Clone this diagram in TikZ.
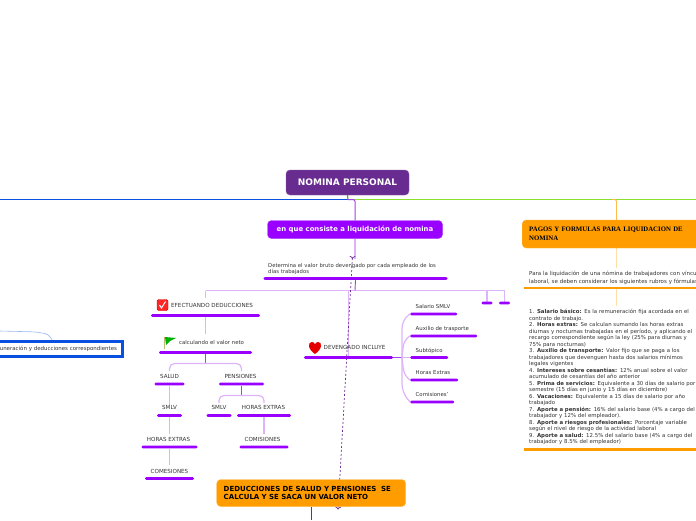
\documentclass[tikz,border=0pt]{standalone}
\usepackage{fontspec}
\setmainfont{DejaVu Sans}
\newfontfamily\headfont{Liberation Serif}
\usetikzlibrary{shapes,arrows,arrows.meta,positioning,backgrounds}
\definecolor{nomina}{HTML}{682C91}
\definecolor{violeta}{HTML}{9900FF}
\definecolor{lila}{HTML}{DDB3FA}
\definecolor{oscuro}{HTML}{A040E8}
\definecolor{naranja}{HTML}{FF9C00}
\definecolor{crema}{HTML}{FFDFA8}
\definecolor{azul}{HTML}{0A50E0}
\definecolor{verde}{HTML}{8BE02A}
\definecolor{texto}{HTML}{333333}
\tikzset{
    x=1pt,y=-1pt,
    title/.style={rounded corners=4pt,text=white,font=\bfseries\fontsize{9}{11}\selectfont,align=center,inner sep=0pt},
    item/.style={text=texto,font=\fontsize{5.4}{6.3}\selectfont,inner sep=0pt,anchor=base},
    itemleft/.style={item,anchor=base west,align=left},
    upper/.style={font=\fontsize{5.6}{6.3}\selectfont},
    bar/.style={fill=violeta,rounded corners=1.2pt,minimum height=2.6pt,inner sep=0pt},
    barorange/.style={fill=naranja,minimum height=2.6pt,inner sep=0pt,anchor=west},
    soft/.style={line width=1.2pt,lila},
    softorange/.style={line width=1.2pt,crema},
    strong/.style={line width=.9pt,oscuro},
}
\begin{document}
\begin{tikzpicture}
    \useasboundingbox (0,0) rectangle (696,520);

    % boxes
    \node[title,fill=nomina,draw=nomina!80!white,minimum width=123pt,minimum height=25pt] (root) at (347.5,182.5) {NOMINA PERSONAL};
    \node[title,fill=violeta,draw=violeta!80!white,minimum width=175pt,minimum height=18pt,font=\bfseries\fontsize{6.9}{8}\selectfont] (consiste) at (355,229.5) {en que consiste a liquidación de nomina};
    \node[title,fill=naranja,draw=naranja!80!white,minimum height=28pt,text=black,anchor=west,align=left,text width=170pt,inner xsep=7pt,font=\headfont\bfseries\fontsize{6.8}{9.4}\selectfont] (pagos) at (522,234) {PAGOS Y FORMULAS PARA LIQUIDACION DE\\NOMINA};
    \node[title,fill=naranja,draw=naranja!70!white,minimum height=27pt,text=black,anchor=west,align=left,text width=175pt,inner xsep=7pt,font=\bfseries\fontsize{7}{8.2}\selectfont] (deduccion) at (216.5,493) {DEDUCCIONES DE SALUD Y PENSIONES\ \ SE\\CALCULA Y SE SACA UN VALOR NETO};
    \node[draw=azul,line width=3pt,fill=white,text=texto,font=\fontsize{5.45}{6.3}\selectfont,anchor=east,text width=130pt,align=right,inner xsep=5pt,minimum height=14.5pt,outer sep=0pt] (remun) at (122,349) {uneración y deducciones correspondientes};

    % text nodes and their bars
    \node[itemleft,text width=190pt,font=\fontsize{5.3}{6.3}\selectfont] (determina) at (268,267) {Determina el valor bruto devengado por cada empleado de los\\días trabajados};
    \node[bar,minimum width=184pt] (determinabar) at (355.5,278.5) {};

    \node[itemleft,upper] (efectuando) at (171,307.5) {EFECTUANDO DEDUCCIONES};
    \node[bar,minimum width=109pt] (efectuandobar) at (205.5,315.5) {};
    \node[itemleft] (neto) at (179,344.5) {calculando el valor neto};
    \node[bar,minimum width=93pt] (netobar) at (205.5,352.5) {};

    \node[item,upper] (salud) at (169.5,378.5) {SALUD};
    \node[bar,minimum width=30pt] (saludbar) at (169.5,384) {};
    \node[item,upper] (pensiones) at (240.5,378.5) {PENSIONES};
    \node[bar,minimum width=45pt] (pensionesbar) at (241.5,384) {};

    \node[item,upper] (smlvuno) at (169.5,409.5) {SMLV};
    \node[bar,minimum width=25pt] (smlvunobar) at (169.5,415.5) {};
    \node[item,upper] (smlvdos) at (219,409.5) {SMLV};
    \node[bar,minimum width=25pt] (smlvdosbar) at (219,415.5) {};
    \node[item,upper] (horasdos) at (263.5,409.5) {HORAS EXTRAS};
    \node[bar,minimum width=54pt] (horasdosbar) at (264,415.5) {};

    \node[item,upper] (horasuno) at (168.5,441.5) {HORAS EXTRAS};
    \node[bar,minimum width=56pt] (horasunobar) at (169.5,447) {};
    \node[item,upper] (comisionesdos) at (262.5,441.5) {COMISIONES};
    \node[bar,minimum width=49pt] (comisionesdosbar) at (264,447) {};
    \node[item,upper] (comesiones) at (169.5,473) {COMESIONES};
    \node[bar,minimum width=49pt] (comesionesbar) at (169.5,478.5) {};

    \node[itemleft,upper] (devengado) at (323.5,349.5) {DEVENGADO INCLUYE};
    \node[bar,minimum width=89pt] (devengadobar) at (348.5,357.5) {};

    \node[itemleft] (salario) at (415.5,308.5) {Salario SMLV};
    \node[bar,minimum width=47pt,anchor=west] (salariobar) at (410,314) {};
    \node[itemleft] (auxilio) at (415.5,330.5) {Auxilio de trasporte};
    \node[bar,minimum width=67pt,anchor=west] (auxiliobar) at (410,336) {};
    \node[itemleft] (subtopico) at (415.5,352.5) {Subtópico};
    \node[bar,minimum width=38pt,anchor=west] (subtopicobar) at (410,357.5) {};
    \node[itemleft] (horas) at (415.5,374.5) {Horas Extras};
    \node[bar,minimum width=48pt,anchor=west] (horasbar) at (410,380) {};
    \node[itemleft] (comisiones) at (415.5,396.5) {Comisiones'};
    \node[bar,minimum width=44pt,anchor=west] (comisionesbar) at (410,402) {};
    \node[bar,minimum width=11pt] (vaciouno) at (487,303) {};
    \node[bar,minimum width=11pt] (vaciodos) at (504.5,303) {};

    \node[itemleft,text width=190pt,font=\fontsize{5.5}{7.6}\selectfont] (para) at (529,275.5) {Para la liquidación de una nómina de trabajadores con vínculo\\laboral, se deben considerar los siguientes rubros y fórmulas};
    \node[barorange,minimum width=172pt] (parabar) at (524,288) {};
    \node[itemleft,text width=190pt,font=\fontsize{5.4}{6.5}\selectfont] (rubros) at (529,313.5) {1. \textbf{Salario básico:} Es la remuneración fija acordada en el\\contrato de trabajo.\\
2. \textbf{Horas extras:} Se calculan sumando las horas extras\\diurnas y nocturnas trabajadas en el período, y aplicando el\\recargo correspondiente según la ley (25\% para diurnas y\\75\% para nocturnas)\\
3. \textbf{Auxilio de transporte:} Valor fijo que se paga a los\\trabajadores que devenguen hasta dos salarios mínimos\\legales vigentes\\
4. \textbf{Intereses sobre cesantías:} 12\% anual sobre el valor\\acumulado de cesantías del año anterior\\
5. \textbf{Prima de servicios:} Equivalente a 30 días de salario por\\semestre (15 días en junio y 15 días en diciembre)\\
6. \textbf{Vacaciones:} Equivalente a 15 días de salario por año\\trabajado\\
7. \textbf{Aporte a pensión:} 16\% del salario base (4\% a cargo del\\trabajador y 12\% del empleador).\\
8. \textbf{Aporte a riesgos profesionales:} Porcentaje variable\\según el nivel de riesgo de la actividad laboral\\
9. \textbf{Aporte a salud:} 12.5\% del salario base (4\% a cargo del\\trabajador y 8.5\% del empleador)};
    \node[barorange,minimum width=172pt] (rubrosbar) at (524,449.5) {};

    % free ends of the branches
    \coordinate (tronco) at (348,199.5);
    \coordinate (izquierda) at (0,199.5);
    \coordinate (derecha) at (696,199.5);
    \coordinate (reparto) at (355,290.5);
    \coordinate (abanico) at (402,357.5);
    \coordinate (repartoneto) at (205.5,363.5);
    \coordinate (repartopension) at (241.5,395.5);
    \coordinate (margen) at (0,331);
    \coordinate (borde) at (311,520);

    \begin{scope}[on background layer]
    % main branches
    \draw[line width=1pt,azul] (izquierda) -- (tronco);
    \draw[line width=1pt,verde] (tronco) -- (derecha);
    \draw[line width=1.2pt,olive!70!green] (root.south) -- (tronco);
    \draw[line width=1pt,oscuro,rounded corners=2pt] (tronco) -| (consiste.north);
    \draw[line width=.9pt,naranja!70!white,rounded corners=2pt] (612,199.5) -| (616.5,220);

    % connectors of the violet branch
    \draw[soft] (consiste.south) -- (355,259);
    \draw[soft] (205.5,290.5) -- (reparto);
    \draw[soft] (reparto) -- (504.5,290.5) -- (vaciodos.north);
    \draw[soft] (487,290.5) -- (vaciouno.north);
    \draw[soft] (205.5,290.5) -- (205.5,298);
    \draw[soft] (348.5,290.5) -- (devengadobar.north);
    \draw[strong] (determinabar.south) -- (reparto);

    % connectors of the left column
    \draw[soft] (efectuandobar.south) -- (205.5,334);
    \draw[strong] (netobar.south) -- (repartoneto);
    \draw[soft,rounded corners=5pt] (169.5,371) |- (repartoneto) -| (241.5,371);
    \draw[soft] (saludbar.south) -- (smlvuno.north);
    \draw[soft] (smlvunobar.south) -- (169.5,434);
    \draw[soft] (horasunobar.south) -- (169.5,465);
    \draw[strong] (pensionesbar.south) -- (repartopension);
    \draw[soft,rounded corners=5pt] (219,403) |- (repartopension) -| (264,403);
    \draw[soft] (horasdosbar.south) -- (264,434);

    % connectors of the fan
    \draw[strong] (devengadobar.east) -- (abanico);
    \draw[soft,rounded corners=8pt] (salariobar.west) -- (402,320) -- (abanico);
    \draw[soft,rounded corners=6pt] (auxiliobar.west) -- (404,340) -- (abanico);
    \draw[soft] (abanico) -- (subtopicobar.west);
    \draw[soft,rounded corners=6pt] (abanico) -- (404,375) -- (horasbar.west);
    \draw[soft,rounded corners=8pt] (abanico) -- (402,392) -- (comisionesbar.west);

    % connectors of the orange branch
    \draw[softorange] (616.5,248) -- (616.5,268);
    \draw[softorange] (616.5,289) -- (616.5,306);

    % link into the blue box
    \draw[line width=.6pt,azul!40!white,rounded corners=8pt] (margen) -- (40,332) -- (53,336) -- (53,341);

    % link below the orange box
    \draw[line width=.9pt,azul] (311,507) -- (borde);

    % dashed link
    \draw[line width=.7pt,nomina,dash pattern=on 2pt off 2pt,{>[scale=.9]}-{>[scale=.9]}] (352.5,256) -- (338,509.5);
    \end{scope}

    % icons
    \node[draw=red!80!black,fill=red!85!white,rounded corners=1.5pt,minimum size=11pt,inner sep=0pt] (marca) at (162.5,305) {};
    \draw[white,line width=1pt] (159.5,305) -- (161.5,308) -- (165.5,301.5);
    \draw[line width=.8pt,gray!60!yellow] (164.5,336.5) -- (164.5,349);
    \fill[green!70!black] (165,337) -- (176,338) -- (170,341) -- (166,345) -- cycle;
    \fill[red!90!black] (315,354) .. controls (307.5,349) and (307.5,342) .. (312,342) .. controls (313.5,342) and (315,343) .. (315,344.5) .. controls (315,343) and (316.5,342) .. (318,342) .. controls (322.5,342) and (322.5,349) .. (315,354) -- cycle;
\end{tikzpicture}
\end{document}
